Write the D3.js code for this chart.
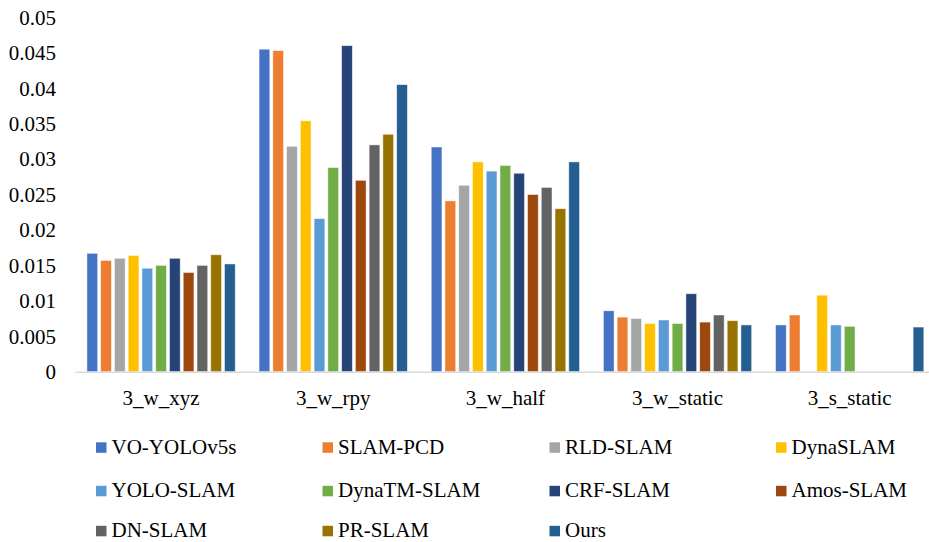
<!DOCTYPE html>
<html>
<head>
<meta charset="utf-8">
<script src="https://cdn.jsdelivr.net/npm/d3@7/dist/d3.min.js"></script>
<style>
  html, body { margin: 0; padding: 0; background: #fff; }
  svg { display: block; }
  text { font-family: "Liberation Serif", "Times New Roman", serif; fill: #000; }
</style>
</head>
<body>
<svg id="chart" width="929" height="542"></svg>
<script>
const categories = ["3_w_xyz", "3_w_rpy", "3_w_half", "3_w_static", "3_s_static"];
const seriesNames = ["VO-YOLOv5s", "SLAM-PCD", "RLD-SLAM", "DynaSLAM", "YOLO-SLAM", "DynaTM-SLAM", "CRF-SLAM", "Amos-SLAM", "DN-SLAM", "PR-SLAM", "Ours"];
const seriesColors = ["#4472C4", "#ED7D31", "#A5A5A5", "#FFC000", "#5B9BD5", "#70AD47", "#264478", "#9E480E", "#636363", "#997300", "#255E91"];
// values per series, in category order (null = no bar)
const vVO     = [0.0167, 0.0455, 0.0317, 0.0086, 0.0066];
const vPCD    = [0.0157, 0.0453, 0.0241, 0.0077, 0.0080];
const vRLD    = [0.0160, 0.0318, 0.0263, 0.0075, null];
const vDyna   = [0.0164, 0.0354, 0.0296, 0.0068, 0.0108];
const vYOLO   = [0.0146, 0.0216, 0.0283, 0.0073, 0.0066];
const vDynaTM = [0.0150, 0.0288, 0.0291, 0.0068, 0.0064];
const vCRF    = [0.0160, 0.0460, 0.0280, 0.0110, null];
const vAmos   = [0.0140, 0.0270, 0.0250, 0.0070, null];
const vDN     = [0.0150, 0.0320, 0.0260, 0.0080, null];
const vPR     = [0.0165, 0.0335, 0.0230, 0.0072, null];
const vOurs   = [0.0152, 0.0405, 0.0296, 0.0066, 0.0063];
const yTicks = [0, 0.005, 0.01, 0.015, 0.02, 0.025, 0.03, 0.035, 0.04, 0.045, 0.05];
const yTickLabels = ["0", "0.005", "0.01", "0.015", "0.02", "0.025", "0.03", "0.035", "0.04", "0.045", "0.05"];

const seriesValues = [vVO, vPCD, vRLD, vDyna, vYOLO, vDynaTM, vCRF, vAmos, vDN, vPR, vOurs];

const svg = d3.select("#chart");

const x0 = d3.scaleBand().domain(categories).range([75, 935.75])
  .paddingInner(0.1385).paddingOuter(0.0693);
const x1 = d3.scaleBand().domain(seriesNames).range([0, x0.bandwidth()])
  .paddingInner(0.22).paddingOuter(0);
const y = d3.scaleLinear().domain([0, 0.05]).range([371.7, 17.3]);

// bars
const groups = svg.append("g").selectAll("g")
  .data(categories).join("g")
  .attr("transform", d => `translate(${x0(d)},0)`);

groups.selectAll("rect")
  .data((c, ci) => seriesNames.map((s, si) => ({ s, si, v: seriesValues[si][ci] })).filter(d => d.v != null))
  .join("rect")
  .attr("x", d => x1(d.s))
  .attr("width", x1.bandwidth())
  .attr("y", d => y(d.v))
  .attr("height", d => y(0) - y(d.v))
  .attr("fill", d => seriesColors[d.si])
  .attr("stroke", "#ffffff")
  .attr("stroke-opacity", 0.6)
  .attr("stroke-width", 0.8);

// x axis
const xAxis = d3.axisBottom(x0).tickSize(0).tickPadding(0);
const gx = svg.append("g").attr("transform", `translate(0,${y(0)})`).call(xAxis);
gx.select(".domain").attr("stroke", "#D9D9D9").attr("stroke-width", 1.5);
gx.selectAll("text")
  .attr("font-family", "Liberation Serif, Times New Roman, serif")
  .attr("font-size", 21).attr("fill", "#000")
  .attr("y", 33).attr("dy", null);

// y axis (labels only)
const yAxis = d3.axisLeft(y).tickValues(yTicks).tickFormat((d, i) => yTickLabels[i]).tickSize(0).tickPadding(0);
const gy = svg.append("g").attr("transform", "translate(56,0)").call(yAxis);
gy.select(".domain").remove();
gy.selectAll("text")
  .attr("font-family", "Liberation Serif, Times New Roman, serif")
  .attr("font-size", 21).attr("fill", "#000")
  .attr("dy", "0.33em");

// legend
const legCols = [96, 322.5, 549.5, 776];
const legRows = [447.5, 491, 531];
const leg = svg.append("g").selectAll("g")
  .data(seriesNames).join("g")
  .attr("transform", (d, i) => `translate(${legCols[i % 4]},${legRows[Math.floor(i / 4)]})`);
leg.append("rect").attr("x", 0).attr("y", -5.2).attr("width", 10.5).attr("height", 10.5)
  .attr("fill", (d, i) => seriesColors[i]);
leg.append("text").attr("x", 15.5).attr("y", 0).attr("dy", "0.3em")
  .attr("font-size", 21).text(d => d);
</script>
</body>
</html>
